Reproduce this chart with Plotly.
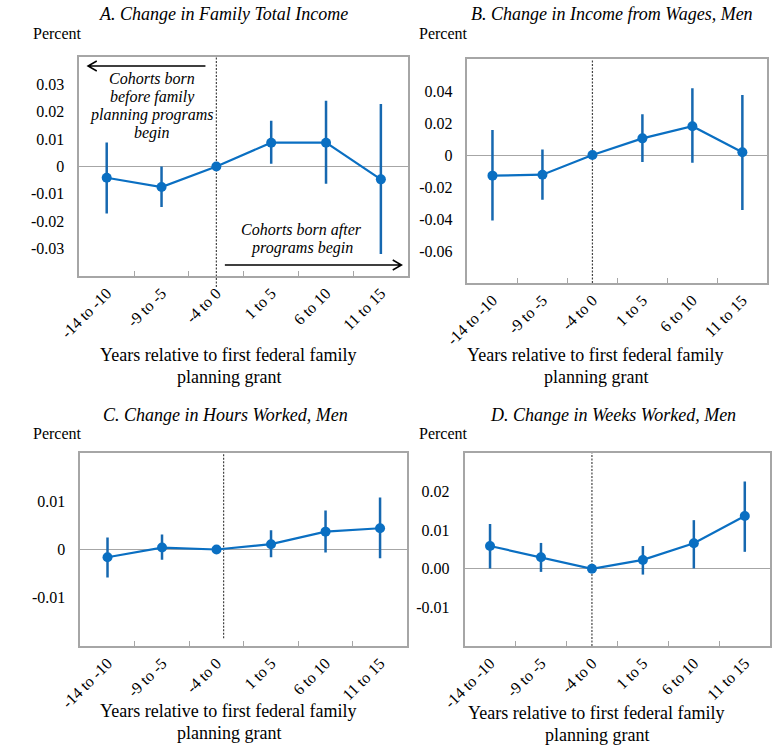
import plotly.graph_objects as go

# ---------------- data ----------------
cats = ["-14 to -10", "-9 to -5", "-4 to 0", "1 to 5", "6 to 10", "11 to 15"]

A_est = [-0.0041, -0.0075, 0.0, 0.0087, 0.0087, -0.0047]
A_hi = [0.0088, 0.0000, 0.0, 0.0167, 0.0240, 0.0228]
A_lo = [-0.0172, -0.0148, 0.0, 0.0010, -0.0063, -0.0320]

B_est = [-0.0129, -0.0123, 0.0, 0.0104, 0.0180, 0.0017]
B_hi = [0.0156, 0.0035, 0.0, 0.0254, 0.0417, 0.0375]
B_lo = [-0.0410, -0.0280, 0.0, -0.0044, -0.0048, -0.0344]

C_est = [-0.0016, 0.0004, 0.0, 0.0011, 0.0037, 0.0044]
C_hi = [0.0025, 0.0031, 0.0, 0.0040, 0.0081, 0.0108]
C_lo = [-0.0058, -0.0021, 0.0, -0.0016, -0.0006, -0.0018]

D_est = [0.0059, 0.0030, 0.0, 0.0023, 0.0066, 0.0137]
D_hi = [0.0116, 0.0067, 0.0, 0.0059, 0.0126, 0.0226]
D_lo = [0.0001, -0.0008, 0.0, -0.0015, 0.0001, 0.0044]

A_ticks = [-0.03, -0.02, -0.01, 0, 0.01, 0.02, 0.03]
A_ticktext = ["-0.03", "-0.02", "-0.01", "0", "0.01", "0.02", "0.03"]
B_ticks = [-0.06, -0.04, -0.02, 0, 0.02, 0.04]
B_ticktext = ["-0.06", "-0.04", "-0.02", "0", "0.02", "0.04"]
C_ticks = [-0.01, 0, 0.01]
C_ticktext = ["-0.01", "0", "0.01"]
D_ticks = [-0.01, 0, 0.01, 0.02]
D_ticktext = ["-0.01", "0.00", "0.01", "0.02"]

titles = ["A. Change in Family Total Income", "B. Change in Income from Wages, Men",
          "C. Change in Hours Worked, Men", "D. Change in Weeks Worked, Men"]
xtitle_lines = ["Years relative to first federal family", "planning grant"]

# ---------------- styling ----------------
W, H = 779, 751
BLUE = "#0a6fc2"
EBLUE = "#1668b0"
GRAY = "#a6a6a6"
FONT = "Liberation Serif"


def px(x, y):
    return x / W, 1 - y / H


def xd(x0, x1):
    return [x0 / W, x1 / W]


def yd(top, bottom):
    return [1 - bottom / H, 1 - top / H]


panels = [
    dict(est=A_est, hi=A_hi, lo=A_lo, xdom=xd(58, 397), ydom=yd(57, 276), yr=[-0.04, 0.04],
         tv=A_ticks, tt=A_ticktext),
    dict(est=B_est, hi=B_hi, lo=B_lo, xdom=xd(458, 767), ydom=yd(59, 283), yr=[-0.08, 0.06],
         tv=B_ticks, tt=B_ticktext),
    dict(est=C_est, hi=C_hi, lo=C_lo, xdom=xd(59, 396), ydom=yd(453, 646), yr=[-0.02, 0.02],
         tv=C_ticks, tt=C_ticktext),
    dict(est=D_est, hi=D_hi, lo=D_lo, xdom=xd(455, 770), ydom=yd(453, 646), yr=[-0.02, 0.03],
         tv=D_ticks, tt=D_ticktext),
]

fig = go.Figure()
layout = dict(
    width=W, height=H, margin=dict(l=0, r=0, t=0, b=0),
    paper_bgcolor="white", plot_bgcolor="white", showlegend=False,
    font=dict(family=FONT, size=16, color="black"),
)

shapes = []
annotations = []

for i, p in enumerate(panels):
    n = "" if i == 0 else str(i + 1)
    xa, ya = "x" + n, "y" + n
    fig.add_trace(go.Scatter(
        x=cats, y=p["est"], mode="lines+markers",
        line=dict(color=BLUE, width=2.2),
        marker=dict(size=10, color=BLUE),
        error_y=dict(type="data", symmetric=False,
                     array=[h - e for h, e in zip(p["hi"], p["est"])],
                     arrayminus=[e - l for e, l in zip(p["est"], p["lo"])],
                     color=EBLUE, thickness=2.5, width=0),
        xaxis=xa, yaxis=ya, cliponaxis=False, hoverinfo="skip",
    ))
    layout["xaxis" + n] = dict(
        domain=p["xdom"], anchor=ya, type="category", categoryorder="array", categoryarray=cats,
        range=[-0.5, 5.5], tickson="boundaries", ticks="inside", ticklen=5, tickcolor=GRAY,
        tickwidth=1, tickangle=-45, showline=True, mirror=True, linecolor=GRAY, linewidth=1.5,
        showgrid=False, zeroline=False, tickfont=dict(family=FONT, size=16, color="black"),
        fixedrange=True,
    )
    layout["yaxis" + n] = dict(
        domain=p["ydom"], anchor=xa, range=p["yr"], tickmode="array", tickvals=p["tv"],
        ticktext=p["tt"], ticks="", showline=True, mirror=True, linecolor=GRAY, linewidth=1.5,
        showgrid=False, zeroline=True, zerolinecolor=GRAY, zerolinewidth=1,
        ticklabelstandoff=10, tickfont=dict(family=FONT, size=16, color="black"),
        fixedrange=True,
    )
    # dashed vertical line at program start
    dx = 2.13 if i == 2 else 2
    y0 = -0.05 if i == 0 else (0.04 if i == 2 else 0)
    shapes.append(dict(type="line", xref=xa, yref=ya + " domain", x0=dx, x1=dx, y0=y0, y1=1,
                       line=dict(color="#444444", width=1.2, dash="2px,1.5px"), layer="below"))

# titles
title_pos = [(207, 14), (607, 14), (209, 415), (608, 415)]
for t, (x, y) in zip(titles, title_pos):
    xp, yp = px(x, y)
    annotations.append(dict(text="<i>" + t + "</i>", x=xp, y=yp, xref="paper", yref="paper",
                            showarrow=False, xanchor="center", yanchor="middle",
                            font=dict(family=FONT, size=18)))

# "Percent" labels
for (x, y) in [(8, 33), (406, 33), (8, 434), (406, 434)]:
    xp, yp = px(x, y)
    annotations.append(dict(text="Percent", x=xp, y=yp, xref="paper", yref="paper",
                            showarrow=False, xanchor="left", yanchor="middle",
                            font=dict(family=FONT, size=16)))

# x-axis titles (two lines each)
for (x, y1, y2) in [(212, 355, 377), (590, 355, 377), (212, 711, 733), (591, 713, 735)]:
    for line, y in zip(xtitle_lines, (y1, y2)):
        xp, yp = px(x, y)
        annotations.append(dict(text=line, x=xp, y=yp, xref="paper", yref="paper",
                                showarrow=False, xanchor="center", yanchor="middle",
                                font=dict(family=FONT, size=18)))

# panel A notes
noteL = ["Cohorts born", "before family", "planning programs", "begin"]
for line, y in zip(noteL, [79, 97, 115, 133]):
    xp, yp = px(133, y)
    annotations.append(dict(text="<i>" + line + "</i>", x=xp, y=yp, xref="paper", yref="paper",
                            showarrow=False, xanchor="center", yanchor="middle",
                            font=dict(family=FONT, size=16)))
noteR = ["Cohorts born after", "programs begin"]
for line, y in zip(noteR, [230, 248]):
    xp, yp = px(287, y)
    annotations.append(dict(text="<i>" + line + "</i>", x=xp, y=yp, xref="paper", yref="paper",
                            showarrow=False, xanchor="center", yanchor="middle",
                            font=dict(family=FONT, size=16)))


def arrow_path(x_from, x_to, y, head=9, half=5):
    sgn = 1 if x_to < x_from else -1
    start = px(x_from, y)
    tip = px(x_to, y)
    h1 = px(x_to + sgn * head, y - half)
    h2 = px(x_to + sgn * head, y + half)
    return (f"M {start[0]} {start[1]} L {tip[0]} {tip[1]} "
            f"M {h1[0]} {h1[1]} L {tip[0]} {tip[1]} L {h2[0]} {h2[1]}")


shapes.append(dict(type="path", xref="paper", yref="paper", path=arrow_path(188, 67, 66),
                   line=dict(color="black", width=1.5)))
shapes.append(dict(type="path", xref="paper", yref="paper", path=arrow_path(208, 390, 265),
                   line=dict(color="black", width=1.5)))

layout["shapes"] = shapes
layout["annotations"] = annotations
layout["hovermode"] = False
fig.update_layout(**layout)
fig.write_html("out.html", post_script="document.body.style.margin='0';",
               config={"displayModeBar": False})
